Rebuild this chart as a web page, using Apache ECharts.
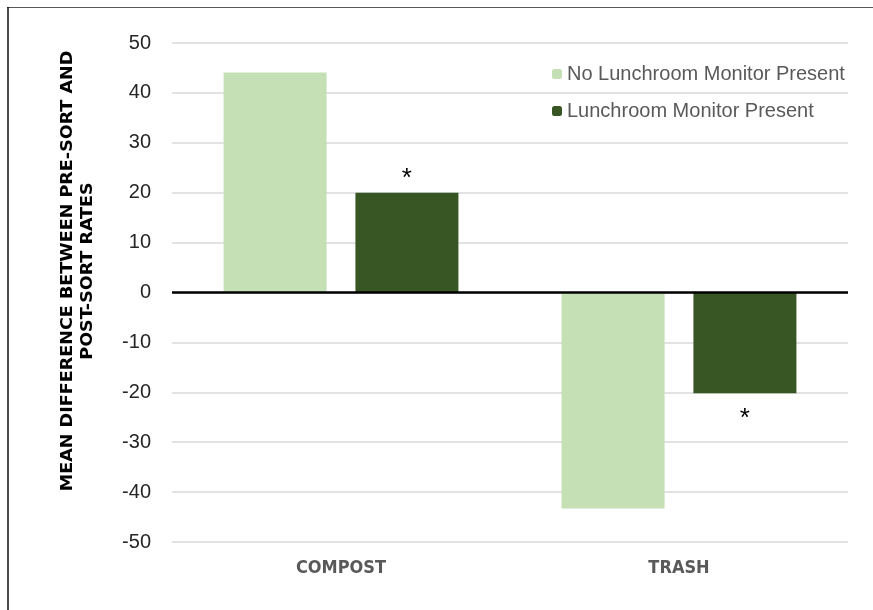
<!DOCTYPE html>
<html>
<head>
<meta charset="utf-8">
<script src="https://cdn.jsdelivr.net/npm/echarts@6/dist/echarts.min.js"></script>
<style>
html,body{margin:0;padding:0;background:#fff;}
#chart{width:873px;height:610px;}
</style>
</head>
<body>
<div id="chart"></div>
<script>
var categories = ['COMPOST', 'TRASH'];
var seriesNames = ['No Lunchroom Monitor Present', 'Lunchroom Monitor Present'];
var noMonitor = [44.1, -43.3];
var withMonitor = [20.0, -20.2];
var significance = ['*', '*'];
var yTicks = { min: -50, max: 50, interval: 10 };
var axisTitle = 'MEAN DIFFERENCE BETWEEN PRE-SORT AND\nPOST-SORT RATES';

var chart = echarts.init(document.getElementById('chart'));

var monitorData = withMonitor.map(function (v, i) {
  return {
    value: v,
    label: {
      show: !!significance[i],
      formatter: significance[i],
      position: v >= 0 ? 'top' : 'bottom',
      distance: v >= 0 ? 1 : 13,
      color: '#000',
      fontSize: 26,
      fontFamily: 'Liberation Sans'
    }
  };
});

chart.setOption({
  animation: false,
  backgroundColor: '#fff',
  grid: { left: 172, right: 25, top: 43, bottom: 68 },
  legend: {
    orient: 'vertical',
    left: 552,
    top: 64,
    padding: 0,
    itemWidth: 10,
    itemHeight: 10,
    itemGap: 17,
    textStyle: { color: '#595959', fontSize: 20, fontFamily: 'Liberation Sans' },
    data: seriesNames
  },
  xAxis: {
    type: 'category',
    data: categories,
    axisLine: { show: false },
    axisTick: { show: false },
    axisLabel: {
      color: '#595959',
      fontSize: 18,
      fontWeight: 'bold',
      fontFamily: 'DejaVu Sans Condensed',
      margin: 17
    }
  },
  yAxis: {
    type: 'value',
    min: yTicks.min,
    max: yTicks.max,
    interval: yTicks.interval,
    axisLine: { show: false },
    axisTick: { show: false },
    axisLabel: { color: '#262626', fontSize: 20, fontFamily: 'Liberation Sans', margin: 21 },
    splitLine: { lineStyle: { color: '#d9d9d9', width: 1.5 } }
  },
  series: [
    {
      name: seriesNames[0],
      type: 'bar',
      data: noMonitor,
      barWidth: 103,
      barGap: '28%',
      itemStyle: { color: '#c5e0b4' },
      markLine: {
        silent: true,
        symbol: 'none',
        label: { show: false },
        lineStyle: { color: '#000', width: 2.5, type: 'solid' },
        data: [{ yAxis: 0 }]
      }
    },
    {
      name: seriesNames[1],
      type: 'bar',
      data: monitorData,
      barWidth: 103,
      itemStyle: { color: '#375623' }
    }
  ],
  graphic: [
    {
      type: 'line',
      shape: { x1: 7, y1: 7.5, x2: 873, y2: 7.5 },
      style: { stroke: '#595959', lineWidth: 1 }
    },
    {
      type: 'line',
      shape: { x1: 8, y1: 7, x2: 8, y2: 610 },
      style: { stroke: '#111', lineWidth: 1.5 }
    },
    {
      type: 'text',
      x: 78,
      y: 271,
      rotation: Math.PI / 2,
      scaleX: 1.22,
      style: {
        text: axisTitle,
        fill: '#000',
        font: 'bold 16px "DejaVu Sans Condensed"',
        align: 'center',
        verticalAlign: 'middle',
        lineHeight: 20
      }
    }
  ]
});
</script>
</body>
</html>
